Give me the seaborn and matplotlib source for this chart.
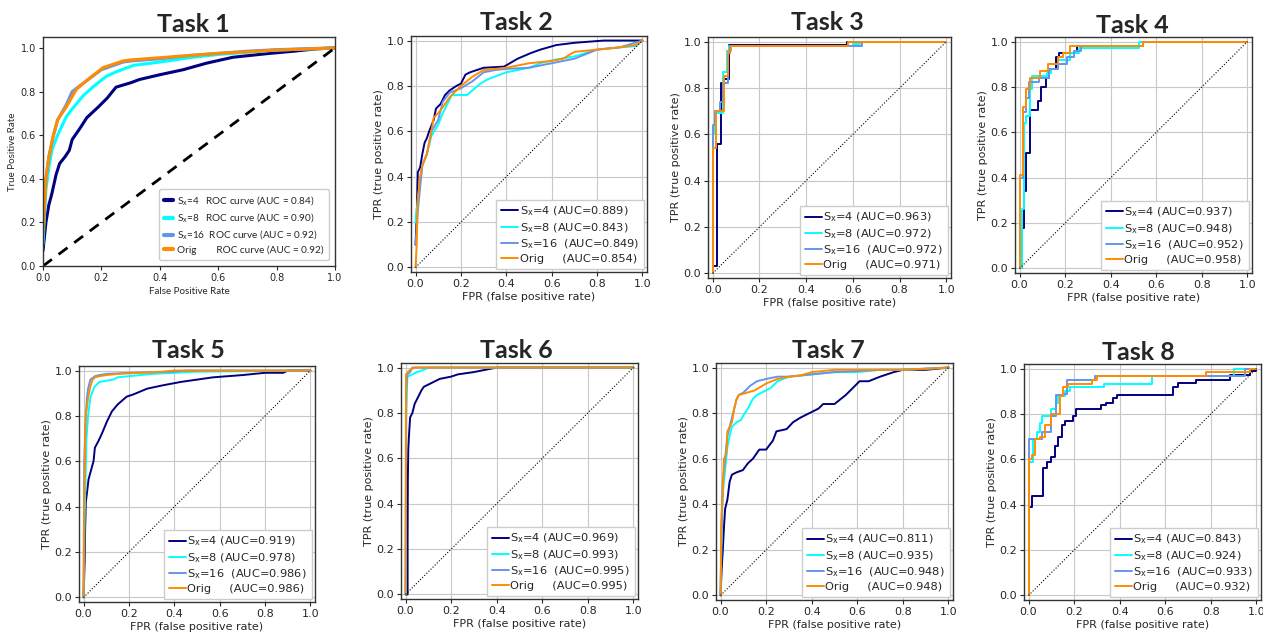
import matplotlib
matplotlib.use("Agg")
import matplotlib.pyplot as plt
import seaborn as sns

# ---------------- data ----------------
SERIES = ["S_x=4", "S_x=8", "S_x=16", "Orig"]
COLORS = ["#000080", "#00FFFF", "#6495ED", "#FF8C00"]
TITLES = ["Task 1", "Task 2", "Task 3", "Task 4", "Task 5", "Task 6", "Task 7", "Task 8"]
TICKS = [0.0, 0.2, 0.4, 0.6, 0.8, 1.0]
DIAG = [0.0, 1.0]

AUC = {
    1: [0.84, 0.90, 0.92, 0.92],
    2: [0.889, 0.843, 0.849, 0.854],
    3: [0.963, 0.972, 0.972, 0.971],
    4: [0.937, 0.948, 0.952, 0.958],
    5: [0.919, 0.978, 0.986, 0.986],
    6: [0.969, 0.993, 0.995, 0.995],
    7: [0.811, 0.935, 0.948, 0.948],
    8: [0.843, 0.924, 0.933, 0.932],
}

# Task 1 (smooth curves)
T1_S4 = [(0, 0.07), (0.01, 0.2), (0.02, 0.28), (0.03, 0.33), (0.045, 0.42), (0.057, 0.47), (0.075, 0.5),
         (0.09, 0.53), (0.1, 0.58), (0.126, 0.63), (0.15, 0.68), (0.19, 0.73), (0.22, 0.77), (0.25, 0.82),
         (0.3, 0.84), (0.33, 0.855), (0.4, 0.877), (0.48, 0.9), (0.56, 0.93), (0.65, 0.957), (0.77, 0.974),
         (0.86, 0.985), (0.93, 0.995), (1.0, 1.0)]
T1_S8 = [(0, 0.1), (0.01, 0.35), (0.02, 0.45), (0.03, 0.53), (0.05, 0.6), (0.08, 0.685), (0.1, 0.72),
         (0.137, 0.78), (0.17, 0.82), (0.217, 0.87), (0.25, 0.89), (0.31, 0.92), (0.4, 0.935), (0.5, 0.955),
         (0.6, 0.97), (0.7, 0.98), (0.8, 0.99), (1.0, 1.0)]
T1_S16 = [(0, 0.15), (0.01, 0.4), (0.02, 0.5), (0.034, 0.59), (0.05, 0.67), (0.08, 0.74), (0.1, 0.8),
          (0.13, 0.83), (0.15, 0.85), (0.2, 0.9), (0.274, 0.935), (0.3, 0.94), (0.4, 0.95), (0.5, 0.965),
          (0.6, 0.975), (0.7, 0.985), (0.8, 0.992), (1.0, 1.0)]
T1_ORIG = [(0, 0.15), (0.01, 0.4), (0.02, 0.5), (0.034, 0.59), (0.05, 0.67), (0.08, 0.73), (0.114, 0.81),
           (0.149, 0.85), (0.206, 0.91), (0.274, 0.94), (0.3, 0.945), (0.4, 0.955), (0.5, 0.965),
           (0.6, 0.975), (0.7, 0.982), (0.8, 0.99), (1.0, 1.0)]

# Task 2
T2_S4 = [(0, 0.1), (0.005, 0.22), (0.01, 0.42), (0.02, 0.44), (0.025, 0.47), (0.03, 0.5), (0.04, 0.55),
         (0.05, 0.57), (0.06, 0.6), (0.08, 0.65), (0.09, 0.7), (0.11, 0.72), (0.13, 0.76), (0.15, 0.78),
         (0.18, 0.8), (0.2, 0.81), (0.22, 0.85), (0.24, 0.86), (0.27, 0.87), (0.3, 0.88), (0.39, 0.885),
         (0.45, 0.92), (0.506, 0.944), (0.55, 0.96), (0.62, 0.98), (0.7, 0.99), (0.83, 1.0), (1.0, 1.0)]
T2_S8 = [(0, 0.2), (0.01, 0.3), (0.02, 0.38), (0.03, 0.45), (0.05, 0.5), (0.07, 0.58), (0.1, 0.63),
         (0.12, 0.68), (0.14, 0.72), (0.16, 0.76), (0.2, 0.76), (0.227, 0.76), (0.25, 0.78), (0.286, 0.81),
         (0.32, 0.83), (0.4, 0.86), (0.45, 0.87), (0.5, 0.88), (0.55, 0.9), (0.61, 0.915), (0.7, 0.93),
         (0.8, 0.96), (0.9, 0.97), (0.97, 0.975), (1.0, 1.0)]
T2_S16 = [(0, 0.1), (0.01, 0.25), (0.02, 0.35), (0.03, 0.45), (0.05, 0.5), (0.07, 0.6), (0.1, 0.65),
          (0.12, 0.73), (0.15, 0.77), (0.2, 0.79), (0.25, 0.82), (0.3, 0.86), (0.35, 0.87), (0.4, 0.875),
          (0.5, 0.88), (0.6, 0.9), (0.7, 0.92), (0.8, 0.96), (0.9, 0.97), (1.0, 1.0)]
T2_ORIG = [(0, 0.0), (0.005, 0.1), (0.01, 0.3), (0.02, 0.4), (0.03, 0.45), (0.05, 0.5), (0.07, 0.6),
           (0.08, 0.66), (0.1, 0.68), (0.13, 0.72), (0.15, 0.75), (0.2, 0.8), (0.25, 0.84), (0.3, 0.87),
           (0.4, 0.88), (0.5, 0.9), (0.6, 0.91), (0.65, 0.92), (0.7, 0.95), (0.8, 0.96), (0.9, 0.97),
           (0.97, 0.98), (1.0, 1.0)]

# Task 3 (staircase corners)
T3_S4 = [(0, 0.0), (0, 0.03), (0.02, 0.557), (0.035, 0.82), (0.05, 0.84), (0.07, 0.986), (0.575, 1.0), (1.0, 1.0)]
T3_S8 = [(0, 0.0), (0, 0.6), (0.01, 0.69), (0.045, 0.87), (0.06, 0.96), (0.07, 0.98), (0.6, 0.99), (0.63, 1.0), (1.0, 1.0)]
T3_S16 = [(0, 0.0), (0, 0.64), (0.01, 0.70), (0.03, 0.74), (0.045, 0.82), (0.065, 0.95), (0.075, 0.98), (0.64, 1.0), (1.0, 1.0)]
T3_ORIG = [(0, 0.0), (0, 0.54), (0.014, 0.70), (0.05, 0.85), (0.065, 0.96), (0.08, 0.98), (0.58, 1.0), (1.0, 1.0)]

# Task 4 (staircase corners)
T4_S4 = [(0, 0.0), (0.01, 0.18), (0.02, 0.34), (0.03, 0.51), (0.045, 0.70), (0.08, 0.74), (0.095, 0.80),
         (0.115, 0.84), (0.13, 0.88), (0.16, 0.93), (0.175, 0.95), (0.25, 0.98), (0.54, 1.0), (1.0, 1.0)]
T4_S8 = [(0, 0.0), (0.01, 0.26), (0.02, 0.64), (0.03, 0.67), (0.045, 0.79), (0.055, 0.85), (0.12, 0.86),
         (0.14, 0.88), (0.17, 0.92), (0.22, 0.95), (0.26, 0.97), (0.525, 1.0), (1.0, 1.0)]
T4_S16 = [(0, 0.0), (0, 0.4), (0.015, 0.69), (0.03, 0.75), (0.04, 0.82), (0.085, 0.84), (0.13, 0.88),
          (0.17, 0.90), (0.21, 0.93), (0.24, 0.96), (0.27, 0.98), (0.54, 1.0), (1.0, 1.0)]
T4_ORIG = [(0, 0.0), (0, 0.41), (0.015, 0.71), (0.03, 0.79), (0.045, 0.84), (0.09, 0.87), (0.125, 0.90),
           (0.17, 0.93), (0.19, 0.95), (0.22, 0.98), (0.54, 1.0), (1.0, 1.0)]

# Task 5
T5_S4 = [(0, 0.0), (0.005, 0.16), (0.007, 0.3), (0.01, 0.42), (0.015, 0.46), (0.022, 0.52), (0.03, 0.55),
         (0.044, 0.6), (0.05, 0.66), (0.066, 0.69), (0.08, 0.72), (0.103, 0.775), (0.125, 0.82), (0.15, 0.85),
         (0.19, 0.885), (0.22, 0.895), (0.28, 0.92), (0.35, 0.935), (0.43, 0.95), (0.5, 0.96), (0.57, 0.97),
         (0.7, 0.98), (0.8, 0.99), (0.88, 0.99), (0.9, 1.0), (1.0, 1.0)]
T5_S8 = [(0, 0.0), (0.005, 0.35), (0.01, 0.57), (0.013, 0.7), (0.02, 0.8), (0.025, 0.84), (0.03, 0.88),
         (0.04, 0.91), (0.05, 0.93), (0.07, 0.95), (0.1, 0.955), (0.13, 0.96), (0.15, 0.97), (0.2, 0.975),
         (0.3, 0.985), (0.4, 0.99), (0.5, 0.995), (0.8, 0.998), (1.0, 1.0)]
T5_S16 = [(0, 0.0), (0.003, 0.6), (0.01, 0.8), (0.015, 0.88), (0.02, 0.92), (0.03, 0.96), (0.05, 0.975),
          (0.07, 0.98), (0.1, 0.985), (0.2, 0.99), (0.4, 0.995), (0.45, 1.0), (1.0, 1.0)]
T5_ORIG = [(0, 0.0), (0.003, 0.4), (0.008, 0.75), (0.01, 0.8), (0.015, 0.84), (0.02, 0.88), (0.03, 0.93),
           (0.04, 0.96), (0.05, 0.97), (0.07, 0.975), (0.1, 0.98), (0.15, 0.985), (0.25, 0.99),
           (0.35, 0.995), (0.4, 1.0), (1.0, 1.0)]

# Task 6
T6_S4 = [(0, 0.0), (0.009, 0.0), (0.009, 0.23), (0.01, 0.5), (0.012, 0.64), (0.015, 0.7), (0.02, 0.78),
         (0.03, 0.8), (0.04, 0.84), (0.05, 0.86), (0.06, 0.88), (0.07, 0.9), (0.08, 0.915), (0.1, 0.925),
         (0.13, 0.94), (0.15, 0.95), (0.2, 0.96), (0.23, 0.97), (0.3, 0.98), (0.35, 0.99), (0.4, 1.0), (1.0, 1.0)]
T6_S8 = [(0, 0.0), (0.003, 0.8), (0.008, 0.96), (0.03, 0.97), (0.05, 0.98), (0.08, 0.99), (0.1, 1.0), (1.0, 1.0)]
T6_S16 = [(0, 0.0), (0.003, 0.9), (0.008, 0.97), (0.02, 0.98), (0.03, 1.0), (1.0, 1.0)]
T6_ORIG = [(0, 0.0), (0.002, 0.97), (0.01, 0.98), (0.02, 0.99), (0.04, 1.0), (1.0, 1.0)]

# Task 7
T7_S4 = [(0, 0.0), (0.005, 0.12), (0.01, 0.2), (0.015, 0.3), (0.02, 0.38), (0.03, 0.42), (0.04, 0.5),
         (0.05, 0.53), (0.07, 0.54), (0.098, 0.55), (0.12, 0.58), (0.142, 0.6), (0.17, 0.64), (0.2, 0.64),
         (0.23, 0.68), (0.245, 0.72), (0.29, 0.73), (0.318, 0.76), (0.35, 0.78), (0.39, 0.8), (0.43, 0.82),
         (0.45, 0.84), (0.5, 0.84), (0.52, 0.856), (0.55, 0.88), (0.58, 0.91), (0.61, 0.94), (0.65, 0.94),
         (0.7, 0.96), (0.76, 0.98), (0.8, 0.99), (0.9, 0.99), (1.0, 1.0)]
T7_S8 = [(0, 0.0), (0.005, 0.3), (0.01, 0.45), (0.02, 0.55), (0.025, 0.6), (0.03, 0.65), (0.04, 0.7),
         (0.05, 0.74), (0.07, 0.76), (0.09, 0.77), (0.1, 0.79), (0.12, 0.82), (0.14, 0.86), (0.16, 0.88),
         (0.2, 0.9), (0.22, 0.91), (0.25, 0.94), (0.3, 0.96), (0.4, 0.97), (0.5, 0.98), (0.6, 0.98),
         (0.7, 0.99), (0.8, 0.99), (1.0, 1.0)]
T7_S16 = [(0, 0.0), (0.005, 0.35), (0.01, 0.5), (0.02, 0.6), (0.03, 0.7), (0.04, 0.74), (0.05, 0.78),
          (0.06, 0.82), (0.07, 0.86), (0.08, 0.88), (0.1, 0.89), (0.13, 0.92), (0.16, 0.94), (0.2, 0.95),
          (0.25, 0.96), (0.3, 0.96), (0.4, 0.97), (0.5, 0.98), (0.6, 0.985), (0.7, 0.99), (0.8, 0.99), (1.0, 1.0)]
T7_ORIG = [(0, 0.0), (0.003, 0.3), (0.01, 0.47), (0.015, 0.6), (0.025, 0.62), (0.03, 0.72), (0.04, 0.74),
           (0.05, 0.76), (0.06, 0.82), (0.07, 0.86), (0.08, 0.88), (0.1, 0.885), (0.15, 0.9), (0.2, 0.93),
           (0.25, 0.95), (0.3, 0.96), (0.35, 0.965), (0.4, 0.98), (0.5, 0.99), (0.8, 0.99), (1.0, 1.0)]

# Task 8 (staircase corners)
T8_S4 = [(0, 0.0), (0, 0.39), (0.015, 0.44), (0.065, 0.56), (0.08, 0.59), (0.1, 0.61), (0.115, 0.66),
         (0.13, 0.70), (0.145, 0.75), (0.16, 0.77), (0.195, 0.79), (0.21, 0.82), (0.32, 0.84), (0.34, 0.85),
         (0.37, 0.87), (0.39, 0.885), (0.635, 0.92), (0.655, 0.935), (0.735, 0.95), (0.885, 0.97),
         (0.97, 0.99), (1.0, 1.0)]
T8_S8 = [(0, 0.0), (0, 0.59), (0.02, 0.69), (0.035, 0.72), (0.05, 0.76), (0.06, 0.79), (0.1, 0.82),
         (0.12, 0.85), (0.13, 0.88), (0.16, 0.90), (0.18, 0.92), (0.33, 0.93), (0.54, 0.965), (0.9, 1.0), (1.0, 1.0)]
T8_S16 = [(0, 0.0), (0, 0.69), (0.06, 0.72), (0.1, 0.79), (0.12, 0.885), (0.15, 0.89), (0.17, 0.95),
          (0.29, 0.965), (0.95, 1.0), (1.0, 1.0)]
T8_ORIG = [(0, 0.0), (0, 0.60), (0.015, 0.62), (0.03, 0.69), (0.05, 0.70), (0.07, 0.75), (0.1, 0.80),
           (0.14, 0.88), (0.15, 0.92), (0.175, 0.93), (0.28, 0.95), (0.3, 0.965), (0.78, 0.985),
           (0.97, 1.0), (1.0, 1.0)]

CURVES = {
    1: [T1_S4, T1_S8, T1_S16, T1_ORIG],
    2: [T2_S4, T2_S8, T2_S16, T2_ORIG],
    3: [T3_S4, T3_S8, T3_S16, T3_ORIG],
    4: [T4_S4, T4_S8, T4_S16, T4_ORIG],
    5: [T5_S4, T5_S8, T5_S16, T5_ORIG],
    6: [T6_S4, T6_S8, T6_S16, T6_ORIG],
    7: [T7_S4, T7_S8, T7_S16, T7_ORIG],
    8: [T8_S4, T8_S8, T8_S16, T8_ORIG],
}
STEP_TASKS = [3, 4, 8]

# ---------------- layout ----------------
sns.set_style("white")
plt.rcParams["font.family"] = ["DejaVu Sans"]
plt.rcParams["mathtext.fontset"] = "dejavusans"

W, H = 1263, 634
fig = plt.figure(figsize=(W / 100, H / 100), dpi=100)

# axes boxes in pixels: left, top, right, bottom
BOXES = {
    1: (43, 37, 335, 266),
    2: (411, 36, 647, 272),
    3: (708, 37, 951, 278),
    4: (1015, 37, 1252, 273),
    5: (79, 366, 315, 602),
    6: (401, 363, 638, 599),
    7: (716, 363, 953, 600),
    8: (1024, 364, 1261, 600),
}
TITLE_POS = {1: (193, 32), 2: (516, 30), 3: (827, 30), 4: (1132, 33),
             5: (188, 358), 6: (516, 358), 7: (828, 358), 8: (1138, 360)}

SX = "S$_\\mathregular{x}$"
PREFIX_T1 = [SX + "=4   ROC curve", SX + "=8   ROC curve", SX + "=16  ROC curve", "Orig        ROC curve"]
PREFIX = [SX + "=4 ", SX + "=8 ", SX + "=16  ", "Orig     "]

for t in range(1, 9):
    l, tp, r, b = BOXES[t]
    ax = fig.add_axes([l / W, (H - b) / H, (r - l) / W, (b - tp) / H])
    step = t in STEP_TASKS
    for i, pts in enumerate(CURVES[t]):
        xs = [p[0] for p in pts]
        ys = [p[1] for p in pts]
        if t == 1:
            lab = f"{PREFIX_T1[i]} (AUC = {AUC[t][i]:.2f})"
            lw = 2.2
        else:
            lab = f"{PREFIX[i]}(AUC={AUC[t][i]:.3f})"
            lw = 1.4
        kw = dict(drawstyle="steps-post") if step else {}
        sns.lineplot(x=xs, y=ys, ax=ax, color=COLORS[i], linewidth=lw, sort=False,
                     estimator=None, label=lab, **kw)
    if t == 1:
        sns.lineplot(x=DIAG, y=DIAG, ax=ax, color="black", linewidth=2.0, linestyle=(0, (4, 3)),
                     sort=False, estimator=None)
        ax.set_xlim(0, 1)
        ax.set_ylim(0, 1.05)
        ax.set_xlabel("False Positive Rate", fontsize=7, labelpad=3, family=["Lato", "DejaVu Sans"])
        ax.set_ylabel("True Positive Rate", fontsize=7, labelpad=3, family=["Lato", "DejaVu Sans"])
        ax.tick_params(labelsize=7, bottom=True, left=True, length=3, width=0.8, pad=2)
        leg = ax.legend(loc="lower right", handlelength=0.9, handletextpad=0.4,
                        labelspacing=0.35, borderpad=0.5, borderaxespad=0.6, fancybox=True,
                        framealpha=1, edgecolor="#cccccc",
                        prop={"family": ["Lato", "DejaVu Sans"], "size": 7.2})
        for h in leg.get_lines():
            h.set_linewidth(3.0)
    else:
        sns.lineplot(x=DIAG, y=DIAG, ax=ax, color="black", linewidth=0.8, linestyle=":",
                     sort=False, estimator=None)
        ax.set_xlim(-0.02, 1.02)
        ax.set_ylim(-0.02, 1.02)
        ax.grid(True, color="#c8c8c8", linewidth=0.8)
        ax.set_axisbelow(True)
        ax.set_xlabel("FPR (false positive rate)", fontsize=8, labelpad=2)
        ax.set_ylabel("TPR (true positive rate)", fontsize=8, labelpad=2)
        ax.tick_params(labelsize=8, bottom=True, left=True, length=3, width=0.8, pad=2)
        ax.legend(loc="lower right", fontsize=8.2, handlelength=1.5, handletextpad=0.15,
                  labelspacing=0.25, borderpad=0.4, borderaxespad=0.3, fancybox=False,
                  framealpha=1, edgecolor="#cccccc")
    ax.set_xticks(TICKS)
    ax.set_yticks(TICKS)
    ax.set_xticklabels([f"{v:.1f}" for v in TICKS])
    ax.set_yticklabels([f"{v:.1f}" for v in TICKS])
    for s in ax.spines.values():
        s.set_color("#333333")
        s.set_linewidth(1.0)
    tx, ty = TITLE_POS[t]
    fig.text(tx / W, 1 - ty / H, TITLES[t - 1], ha="center", va="baseline",
             fontsize=18, fontweight="bold", family=["Lato", "DejaVu Sans"])

fig.savefig("out.png", dpi=100)
